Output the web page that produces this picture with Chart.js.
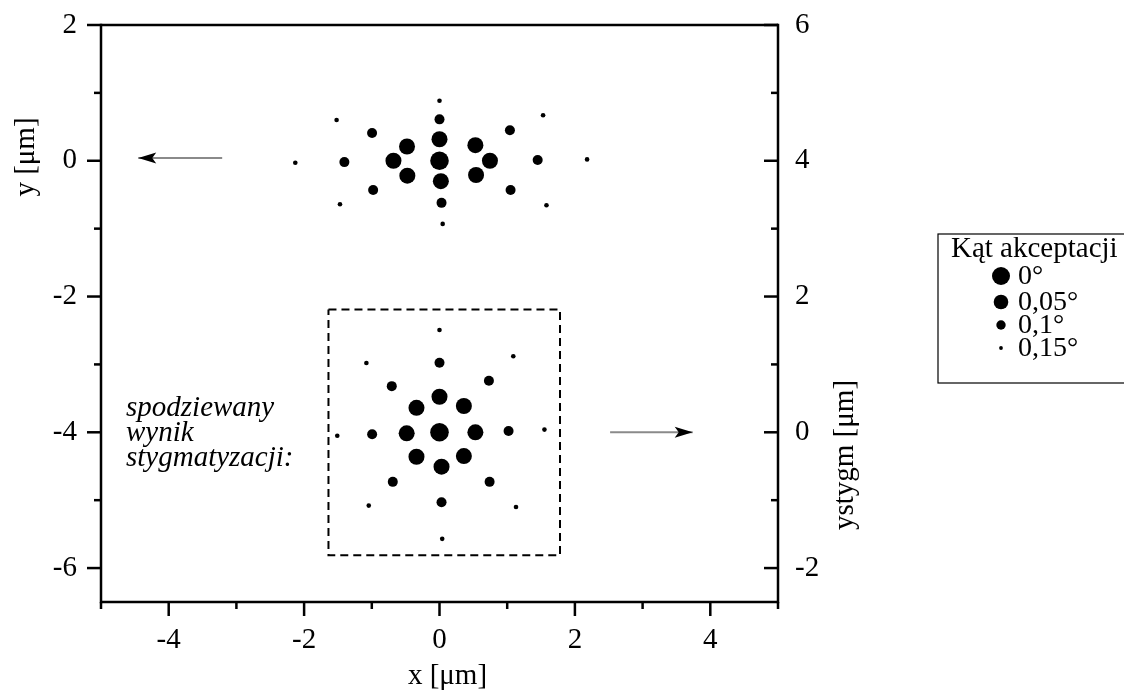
<!DOCTYPE html>
<html><head><meta charset="utf-8">
<script src="https://cdn.jsdelivr.net/npm/chart.js@4/dist/chart.umd.min.js"></script>
<style>html,body{margin:0;padding:0;background:#fff;}#wrap{width:1124px;height:692px;position:relative;}</style>
</head><body><div id="wrap"><canvas id="c" width="1124" height="692"></canvas></div>
<script>
// ---- tick labels / axis ranges ----
const xTicks = [-4, -2, 0, 2, 4];
const xMinor = [-5, -3, -1, 1, 3, 5];
const yTicks = [-6, -4, -2, 0, 2];
const yMinor = [1, -1, -3, -5];
const y2Ticks = [-2, 0, 2, 4, 6];
const y2Minor = [5, 3, 1, -1];

// ---- legend categories ----
const angles = ['0°', '0,05°', '0,1°', '0,15°'];
const legendTitle = 'Kąt akceptacji';

// ---- upper group (left axis, y [µm]) ----
const up0X = [0];
const up0Y = [0];
const up1X = [0, 0.53, 0.745, 0.54, 0.02, -0.475, -0.68, -0.48];
const up1Y = [0.317, 0.23, 0, -0.21, -0.30, -0.22, 0, 0.21];
const up2X = [0, 1.04, 1.45, 1.05, 0.03, -0.98, -1.405, -0.996];
const up2Y = [0.61, 0.45, 0.01, -0.43, -0.62, -0.43, -0.02, 0.41];
const up3X = [0, 1.53, 2.18, 1.58, 0.047, -1.47, -2.13, -1.52];
const up3Y = [0.885, 0.67, 0.02, -0.655, -0.93, -0.64, -0.03, 0.60];

// ---- lower group (right axis, ystygm [µm]) ----
const lo0X = [0];
const lo0Y = [0];
const lo1X = [0, 0.36, 0.53, 0.36, 0.03, -0.34, -0.485, -0.34];
const lo1Y = [0.524, 0.387, 0, -0.35, -0.507, -0.36, -0.015, 0.36];
const lo2X = [0, 0.73, 1.02, 0.74, 0.03, -0.69, -0.995, -0.705];
const lo2Y = [1.025, 0.76, 0.02, -0.73, -1.03, -0.73, -0.03, 0.68];
const lo3X = [0, 1.09, 1.55, 1.13, 0.04, -1.045, -1.51, -1.08];
const lo3Y = [1.507, 1.12, 0.04, -1.10, -1.57, -1.08, -0.05, 1.02];

// ---- annotations ----
const boxX = [-1.64, 1.78, 1.78, -1.64, -1.64];
const boxY = [-2.19, -2.19, -5.81, -5.81, -2.19];
const arrowLeftX = [-3.21, -4.45];
const arrowLeftY = [0.04, 0.04];
const arrowRightX = [2.52, 3.74];
const arrowRightY = [0, 0];
const noteLines = ['spodziewany', 'wynik', 'stygmatyzacji:'];

const FONT = "'Liberation Serif', 'Times New Roman', serif";
const ptRadius = [9.3, 8, 5, 2.3];
const legRadius = [9, 7.3, 4.7, 1.9];

function pts(xs, ys) { return xs.map((x, i) => ({x: x, y: ys[i]})); }
function dot(xs, ys, k, axis) {
  return {type: 'scatter', label: angles[k], data: pts(xs, ys), yAxisID: axis,
    backgroundColor: '#000', borderWidth: 0, pointRadius: ptRadius[k], pointHoverRadius: ptRadius[k]};
}

const datasets = [
  {type: 'line', label: 'box', data: pts(boxX, boxY), yAxisID: 'y', borderColor: '#000', borderWidth: 2,
   borderDash: [8, 5], pointRadius: 0, fill: false, tension: 0},
  {type: 'line', label: 'arrowL', data: pts(arrowLeftX, arrowLeftY), yAxisID: 'y', borderColor: '#8a8a8a', borderWidth: 2,
   pointRadius: 0, fill: false},
  {type: 'line', label: 'arrowR', data: pts(arrowRightX, arrowRightY), yAxisID: 'y2', borderColor: '#8a8a8a', borderWidth: 2,
   pointRadius: 0, fill: false},
  dot(up0X, up0Y, 0, 'y'), dot(up1X, up1Y, 1, 'y'), dot(up2X, up2Y, 2, 'y'), dot(up3X, up3Y, 3, 'y'),
  dot(lo0X, lo0Y, 0, 'y2'), dot(lo1X, lo1Y, 1, 'y2'), dot(lo2X, lo2Y, 2, 'y2'), dot(lo3X, lo3Y, 3, 'y2')
];

const deco = {
  id: 'deco',
  afterDatasetsDraw(chart) {
    const ctx = chart.ctx;
    const ca = chart.chartArea;
    const sx = chart.scales.x, sy = chart.scales.y, sy2 = chart.scales.y2;
    const L = ca.left, R = ca.right, T = ca.top, B = ca.bottom;
    ctx.save();
    ctx.strokeStyle = '#000';
    ctx.lineWidth = 2.5;
    ctx.lineCap = 'butt';
    const line = (x1, y1, x2, y2) => { ctx.beginPath(); ctx.moveTo(x1, y1); ctx.lineTo(x2, y2); ctx.stroke(); };
    // frame
    line(L, T - 1.25, L, B + 1.25);
    line(R, T - 1.25, R, B + 1.25);
    line(L, T, R, T);
    line(L, B, R, B);
    // ticks
    yTicks.forEach(v => { const p = sy.getPixelForValue(v); line(L - 14, p, L, p); });
    yMinor.forEach(v => { const p = sy.getPixelForValue(v); line(L - 7, p, L, p); });
    y2Ticks.forEach(v => { const p = sy2.getPixelForValue(v); line(R - 14, p, R, p); });
    y2Minor.forEach(v => { const p = sy2.getPixelForValue(v); line(R - 7, p, R, p); });
    xTicks.forEach(v => { const p = sx.getPixelForValue(v); line(p, B, p, B + 14); });
    xMinor.forEach(v => { const p = sx.getPixelForValue(v); line(p, B, p, B + 7); });

    // arrow heads from arrow datasets
    [1, 2].forEach(di => {
      const meta = chart.getDatasetMeta(di);
      const a = meta.data[0], b = meta.data[meta.data.length - 1];
      const ang = Math.atan2(b.y - a.y, b.x - a.x);
      ctx.save();
      ctx.translate(b.x, b.y);
      ctx.rotate(ang);
      ctx.fillStyle = '#000';
      ctx.beginPath();
      ctx.moveTo(0, 0); ctx.lineTo(-18, -5.5); ctx.lineTo(-14, 0); ctx.lineTo(-18, 5.5); ctx.closePath();
      ctx.fill();
      ctx.restore();
    });

    // axis titles
    ctx.fillStyle = '#000';
    ctx.font = '29px ' + FONT;
    ctx.textAlign = 'center';
    ctx.textBaseline = 'middle';
    ctx.fillText('x [μm]', sx.getPixelForValue(0) + 8, 676);
    ctx.save(); ctx.translate(26, 157); ctx.rotate(-Math.PI / 2); ctx.fillText('y [μm]', 0, 0); ctx.restore();
    ctx.save(); ctx.translate(845, 455); ctx.rotate(-Math.PI / 2); ctx.fillText('ystygm [μm]', 0, 0); ctx.restore();

    // note text
    ctx.font = 'italic 29px ' + FONT;
    ctx.textAlign = 'left';
    ctx.textBaseline = 'alphabetic';
    noteLines.forEach((t, i) => ctx.fillText(t, 126, 416 + i * 25));

    // legend
    ctx.lineWidth = 1.2;
    ctx.strokeStyle = '#000';
    ctx.strokeRect(938, 234, 200, 149);
    ctx.font = '29px ' + FONT;
    ctx.textBaseline = 'alphabetic';
    ctx.fillText(legendTitle, 951, 257);
    const ly = [276, 302, 325, 348];
    ctx.font = '28px ' + FONT;
    angles.forEach((t, i) => {
      ctx.beginPath(); ctx.arc(1001, ly[i], legRadius[i], 0, Math.PI * 2); ctx.fill();
      ctx.textBaseline = 'middle';
      ctx.fillText(t, 1018, ly[i] + 1);
    });
    ctx.restore();
  }
};

const tickFont = {family: FONT, size: 29};
function zeroPad(s) { s.paddingTop = 0; s.paddingBottom = 0; s.paddingLeft = 0; s.paddingRight = 0; }
new Chart(document.getElementById('c'), {
  data: {datasets: datasets},
  options: {
    responsive: false,
    animation: false,
    events: [],
    layout: {padding: {top: 25, left: 0, right: 0, bottom: 0}},
    plugins: {legend: {display: false}, tooltip: {enabled: false}},
    scales: {
      x: {type: 'linear', position: 'bottom', min: -5, max: 5,
          grid: {display: false}, border: {display: false},
          ticks: {font: tickFont, color: '#000', padding: 13, maxRotation: 0},
          afterBuildTicks: s => { s.ticks = xTicks.map(v => ({value: v})); },
          afterFit: s => { s.height = 90; zeroPad(s); }},
      y: {type: 'linear', position: 'left', min: -6.5, max: 2,
          grid: {display: false}, border: {display: false},
          ticks: {font: tickFont, color: '#000', padding: 16},
          afterBuildTicks: s => { s.ticks = yTicks.map(v => ({value: v})); },
          afterFit: s => { s.width = 101; zeroPad(s); }},
      y2: {type: 'linear', position: 'right', min: -2.5, max: 6,
          grid: {display: false}, border: {display: false},
          ticks: {font: tickFont, color: '#000', padding: 9},
          afterBuildTicks: s => { s.ticks = y2Ticks.map(v => ({value: v})); },
          afterFit: s => { s.width = 346; zeroPad(s); }}
    }
  },
  plugins: [deco]
});
</script>
</body></html>
